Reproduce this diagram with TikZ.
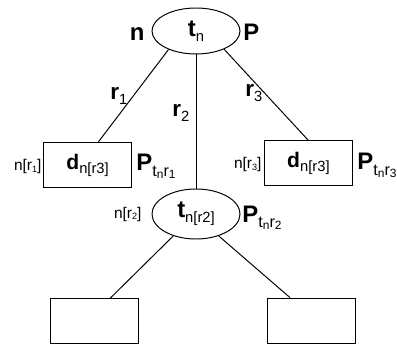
\documentclass[tikz,border=0pt]{standalone}
\usepackage{fontspec}
\setmainfont{Liberation Sans}
\usepackage{tikz}
\usetikzlibrary{positioning,shapes.geometric}
\newcommand{\lowsub}[1]{\raisebox{-0.22em}{\fontsize{10.5}{10.5}\selectfont\mdseries #1}}
\newcommand{\psub}[1]{\raisebox{-0.24em}{\fontsize{11.5}{11.5}\selectfont\mdseries #1}}
\newcommand{\tinysub}[1]{\raisebox{-0.1em}{\fontsize{8.5}{8.5}\selectfont\mdseries #1}}
\newcommand{\labsub}[1]{\raisebox{-0.1em}{\fontsize{6.5}{6.5}\selectfont\mdseries #1}}
\tikzset{
  test/.style={draw,ellipse,minimum width=2.2cm,minimum height=1.2cm,inner sep=0pt,
    font=\fontsize{17}{17}\selectfont\bfseries},
  leaf/.style={draw,rectangle,minimum width=2.2cm,minimum height=1.125cm,inner sep=0pt,
    font=\fontsize{15}{15}\selectfont\bfseries},
  big/.style={font=\fontsize{17}{17}\selectfont\bfseries,inner sep=0pt},
  branch/.style={font=\fontsize{16}{16}\selectfont\bfseries,inner sep=0pt},
  small/.style={font=\fontsize{11}{11}\selectfont,inner sep=0pt}
}

\begin{document}
\begin{tikzpicture}[line width=0.7pt]
\useasboundingbox (0,0) rectangle (9.925,8.625);
% tests
\node[test,minimum height=1.15cm] (tn) at (4.9,7.85) {t\lowsub{n}};
\node[test,minimum height=1.25cm] (tr) at (4.9,3.275) {t\lowsub{n[r2]}};
% leaves
\node[leaf] (dl) at (2.19,4.49) {d\lowsub{n[r3]}};
\node[leaf] (dr) at (7.71,4.54) {d\lowsub{n[r3]}};
\node[leaf] (bl) at (2.35,0.59) {};
\node[leaf] (br) at (7.775,0.61) {};
% branches
\draw (tn.214) -- ([xshift=0.26cm]dl.north);
\draw (tn.south) -- (tr.north);
\draw (tn.327) -- (dr.north);
\draw (tr.224) -- ([xshift=0.4cm]bl.north);
\draw (tr.316) -- ([xshift=-0.525cm]br.north);
% branch labels
\node[branch,anchor=base west] (r1) at (2.75,6.125) {r\lowsub{1}};
\node[branch,anchor=base west] (r2) at (4.3,5.7) {r\lowsub{2}};
\node[branch,anchor=base west] (r3) at (6.125,6.2) {r\lowsub{3}};
% node labels
\node[big,anchor=base east] (ln) at (3.625,7.6) {n};
\node[big,anchor=base west] (lp) at (6.075,7.6) {P};
\node[small,anchor=base east] (nr1) at (1.05,4.35) {n[r\labsub{1}]};
\node[big,anchor=base west] (pr1) at (3.4,4.35) {P\psub{t\tinysub{n}r\tinysub{1}}};
\node[small,anchor=base east] (nr3) at (6.55,4.4) {n[r\labsub{3}]};
\node[big,anchor=base west] (pr3) at (8.925,4.375) {P\psub{t\tinysub{n}r\tinysub{3}}};
\node[small,anchor=base east] (nr2) at (3.55,3.175) {n[r\labsub{2}]};
\node[big,anchor=base west] (pr2) at (6.05,3.075) {P\psub{t\tinysub{n}r\tinysub{2}}};
\end{tikzpicture}
\end{document}
